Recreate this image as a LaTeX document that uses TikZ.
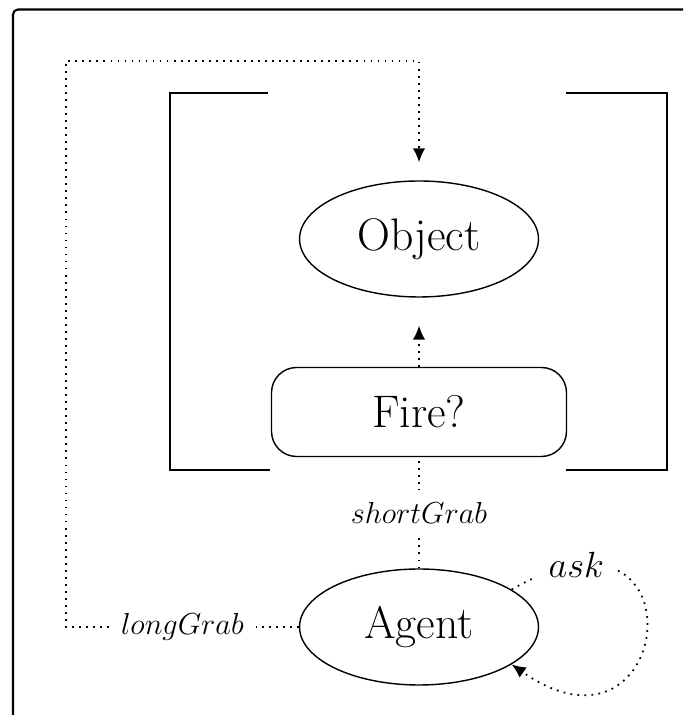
\documentclass[tikz,border=0pt]{standalone}
\usetikzlibrary{positioning,arrows.meta,shapes.geometric}

\begin{document}
\begin{tikzpicture}[
  x=0.02cm, y=0.02cm,
  bigtext/.style={font=\fontsize{26}{31}\selectfont},
  ellnode/.style={draw, ellipse, line width=0.8pt,
    minimum width=4.78cm, minimum height=2.32cm, inner sep=0pt, bigtext},
  firebox/.style={draw, rectangle, rounded corners=0.5cm, line width=0.8pt,
    minimum width=5.9cm, minimum height=1.78cm, inner sep=0pt, bigtext},
  dotline/.style={line width=1pt, dash pattern=on 1pt off 3pt},
  dotarrow/.style={dotline, -{Latex[length=2.8mm,width=2.5mm]}},
  lbl/.style={fill=white, inner sep=7pt, font=\fontsize{17.3}{20}\selectfont},
  bracket/.style={line width=1.1pt},
]
\useasboundingbox (0,0) rectangle (683,715);

% =================== frame ===================
\draw[line width=1.2pt, rounded corners=0.1cm] (13,0) -- (13,705.5) -- (683,705.5);

% =================== brackets ===================
\draw[bracket] (268,622) -- (170,622) -- (170,245) -- (270,245);
\draw[bracket] (566,622) -- (667,622) -- (667,245) -- (566,245);

% =================== nodes ===================
\node[ellnode] (object) at (419,476) {Object};
\node[firebox] (fire) at (419,303) {Fire?};
\node[ellnode] (agent) at (419,88) {Agent};
\coordinate (lgcorner) at (66,654);

% =================== connectors ===================
\draw[dotarrow, shorten >=0.56cm] (fire.north) -- (object.south);
\draw[dotline] (agent.north) -- node[lbl] {$shortGrab$} (fire.south);
\draw[dotarrow, shorten >=0.36cm] (agent.west) -- node[lbl] {$longGrab$} (agent.west -| lgcorner)
  -- (lgcorner) -| (object.north);
\draw[dotarrow] (agent.22) .. controls +(30:225) and +(-35:200) .. node[pos=0.13, lbl, font=\fontsize{22}{26}\selectfont] {$ask$} (agent.-22);

\end{tikzpicture}
\end{document}
